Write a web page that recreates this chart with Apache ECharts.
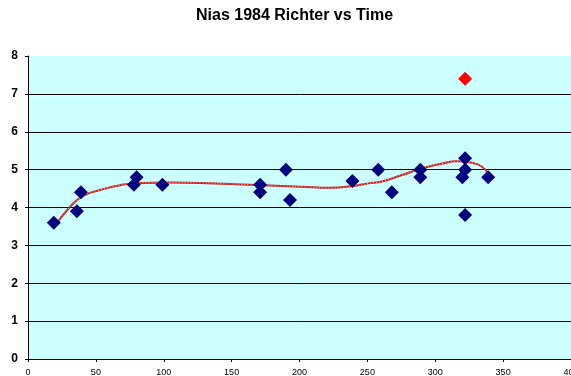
<!DOCTYPE html>
<html><head><meta charset="utf-8">
<script src="https://cdn.jsdelivr.net/npm/echarts@6/dist/echarts.min.js"></script>
<style>html,body{margin:0;padding:0;background:#fff}#c{width:571px;height:376px}</style>
</head><body><div id="c"></div>
<script>
var timeX = [19, 36, 39, 78, 80, 99, 171, 171, 190, 193, 239, 258, 268, 289, 289, 320, 322, 322, 322, 339];
var richter = [3.6, 3.9, 4.4, 4.6, 4.8, 4.6, 4.6, 4.4, 5.0, 4.2, 4.7, 5.0, 4.4, 5.0, 4.8, 4.8, 5.0, 5.3, 3.8, 4.8];
var mainShockX = [322];
var mainShockY = [7.4];
var trendX = [19, 31, 42, 53, 68, 83, 105, 127, 164, 201, 223, 238, 253, 260, 275, 290, 305, 316, 327, 334, 339];
var trendY = [3.46, 4.02, 4.33, 4.46, 4.59, 4.65, 4.66, 4.65, 4.6, 4.55, 4.52, 4.56, 4.65, 4.68, 4.85, 5.03, 5.16, 5.22, 5.18, 5.09, 4.9];
var xTicks = [0, 50, 100, 150, 200, 250, 300, 350, 400];
var yTicks = [0, 1, 2, 3, 4, 5, 6, 7, 8];

function zip(a, b) { return a.map(function (v, i) { return [v, b[i]]; }); }

var chart = echarts.init(document.getElementById('c'));
chart.setOption({
  animation: false,
  backgroundColor: '#fff',
  title: {
    text: 'Nias 1984 Richter vs Time',
    left: 191, top: 3,
    textStyle: { fontFamily: 'Liberation Sans, Arial', fontSize: 16, fontWeight: 'bold', color: '#000' }
  },
  grid: { left: 28, right: 0, top: 56, bottom: 17, show: true, backgroundColor: '#CCFFFF', borderWidth: 0,
          containLabel: false, outerBoundsMode: 'none' },
  xAxis: {
    type: 'value', min: xTicks[0], max: xTicks[xTicks.length - 1], interval: 50,
    axisLine: { show: true, lineStyle: { color: '#000', width: 1 } },
    axisTick: { show: true, length: 3, lineStyle: { color: '#000' } },
    axisLabel: { fontFamily: 'Liberation Sans, Arial', fontSize: 9, color: '#000', margin: 9 },
    splitLine: { show: false }
  },
  yAxis: {
    type: 'value', min: yTicks[0], max: yTicks[yTicks.length - 1], interval: 1,
    axisLine: { show: true, lineStyle: { color: '#000', width: 1 } },
    axisTick: { show: true, length: 3, lineStyle: { color: '#000' } },
    axisLabel: { fontFamily: 'Liberation Sans, Arial', fontSize: 12, fontWeight: 'bold', color: '#000', margin: 10 },
    splitLine: { show: true, showMaxLine: false, showMinLine: false, lineStyle: { color: '#000', width: 1 } }
  },
  series: [
    {
      type: 'line', data: zip(trendX, trendY), smooth: true, showSymbol: false,
      lineStyle: { color: '#D01818', width: 2 }, z: 2
    },
    {
      type: 'line', data: zip(trendX, trendY), smooth: true, showSymbol: false,
      lineStyle: { color: '#FFB0B0', width: 1, type: [1, 2] }, z: 3
    },
    {
      type: 'scatter', data: zip(timeX, richter), symbol: 'diamond', symbolSize: 14,
      itemStyle: { color: '#000080', opacity: 1 }, z: 4
    },
    {
      type: 'scatter', data: zip(mainShockX, mainShockY), symbol: 'diamond', symbolSize: 14,
      itemStyle: { color: '#FF0000', opacity: 1 }, z: 4
    }
  ]
});
</script></body></html>
